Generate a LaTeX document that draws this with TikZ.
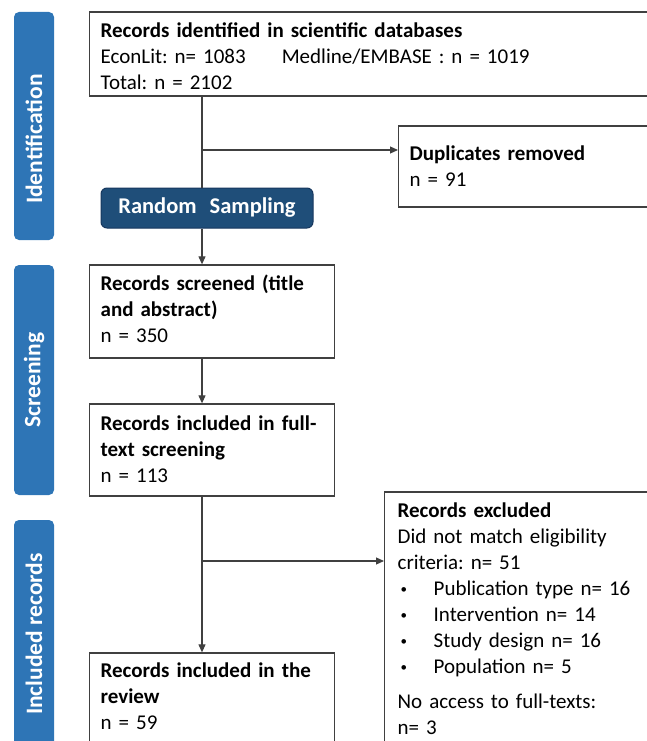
\documentclass[tikz,border=0pt]{standalone}
\usepackage{fontspec}
\setmainfont{Carlito}
\usetikzlibrary{arrows.meta, positioning, calc}
\definecolor{CBar}{HTML}{2E75B6}
\definecolor{CNavy}{HTML}{1F4E79}
\definecolor{CNavyEdge}{HTML}{17375E}
\definecolor{CLine}{HTML}{404040}
\newcommand{\smallbul}{\hspace*{3pt}\makebox[33pt][l]{\raisebox{1.5pt}{\fontsize{13}{13}\selectfont\textbullet}}}

\begin{document}
\frenchspacing
\begin{tikzpicture}[x=1pt, y=-1pt,
    every node/.style={font=\fontsize{21}{26}\selectfont},
    box/.style={draw=CLine, line width=1.3pt, anchor=base west, inner xsep=11pt, inner ysep=0pt, align=left},
    phase/.style={fill=CBar, rounded corners=5pt},
    phaselabel/.style={rotate=90, text=white, font=\fontsize{23.5}{28}\selectfont\bfseries},
    flow/.style={CLine, line width=1.1pt},
    arrow/.style={flow, -{Triangle[length=8pt, width=7pt]}}
]
    % Frame
    \useasboundingbox (0,0) rectangle (647,741);
    \clip (0,0) rectangle (647,741);

    % --- Phase bars ---
    \path[phase] (14,12) rectangle (54,240);
    \path[phase] (14,265) rectangle (54,495);
    \path[phase] (14,520) rectangle (54,780);
    \node[phaselabel] (idlabel) at (34,139) {Identification};
    \node[phaselabel] (screenlabel) at (34,380) {Screening};
    \node[phaselabel] (inclabel) at (34,634) {Included records};

    % --- Boxes ---
    \node[box, text width=600pt, text height=26pt, text depth=58pt] (identified) at (89,38)
        {\textbf{Records identified in scientific databases}\\
         EconLit: n= 1083\hspace{36pt}Medline/EMBASE : n = 1019\\
         Total: n = 2102};
    \node[box, text width=300pt, text height=34pt, text depth=47pt] (dup) at (398,160)
        {\textbf{Duplicates removed}\\n = 91};
    \node[draw=CNavyEdge, line width=1pt, fill=CNavy, rounded corners=6pt, minimum width=212pt, minimum height=40pt,
          text=white, font=\fontsize{22.5}{27}\selectfont\bfseries] (sampling) at (207,208)
        {Random\hspace{13pt}Sampling};
    \node[box, text width=223pt, text height=25pt, text depth=68pt] (screened) at (89,290)
        {\textbf{Records screened (title}\\\textbf{and abstract)}\\n = 350};
    \node[box, text width=223pt, text height=26pt, text depth=66pt] (fulltext) at (89,430)
        {\textbf{Records included in full-}\\\textbf{text screening}\\n = 113};
    \node[box, text width=223pt, text height=24pt, text depth=100pt] (review) at (89,677)
        {\textbf{Records included in the}\\\textbf{review}\\n = 59};
    \node[box, inner xsep=13pt, text width=300pt, text height=25pt, text depth=260pt] (excluded) at (384,517)
        {\textbf{Records excluded}\\
         Did not match eligibility\\
         criteria: n= 51\\
         \smallbul Publication type n= 16\\
         \smallbul Intervention n= 14\\
         \smallbul Study design n= 16\\
         \smallbul Population n= 5\\[9pt]
         No access to full-texts:\\
         n= 3};

    % --- Connectors ---
    \coordinate (spine) at (202,0);
    \coordinate (fork1) at (202,150);
    \coordinate (fork2) at (202,561);
    \draw[flow] (identified.south -| spine) -- (sampling.north -| spine);
    \draw[arrow] (fork1) -- (fork1 -| dup.west);
    \draw[arrow] (sampling.south -| spine) -- (screened.north -| spine);
    \draw[arrow] (screened.south -| spine) -- (fulltext.north -| spine);
    \draw[arrow] (fulltext.south -| spine) -- (review.north -| spine);
    \draw[arrow] (fork2) -- (fork2 -| excluded.west);

\end{tikzpicture}
\end{document}
